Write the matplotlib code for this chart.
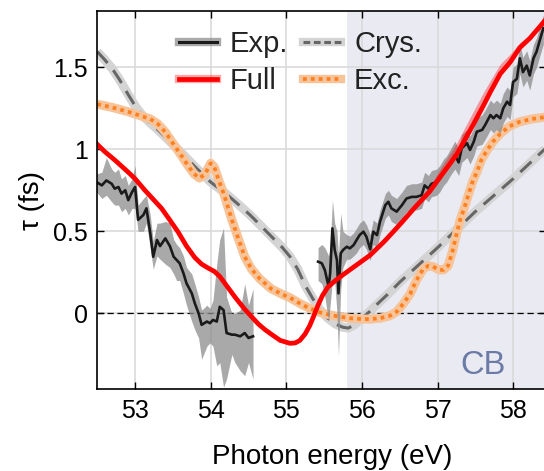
import numpy as np
import matplotlib
matplotlib.use("Agg")
import matplotlib.pyplot as plt
from matplotlib.lines import Line2D
from matplotlib.ticker import FuncFormatter

plt.rcParams['font.family'] = ['Liberation Sans', 'DejaVu Sans']

# ---------------- data ----------------
crys_x = [52.50, 52.60, 52.70, 52.80, 52.90, 53.00, 53.10, 53.20, 53.30, 53.40, 53.50, 53.60,
          53.80, 54.00, 54.20, 54.40, 54.52, 54.65, 54.80, 54.95, 55.05, 55.15, 55.25, 55.35,
          55.45, 55.55, 55.65, 55.75, 55.82, 55.90, 56.00, 56.10, 56.20, 56.35, 56.50, 57.00,
          57.50, 58.00, 58.44]
crys_y = [1.595, 1.545, 1.49, 1.42, 1.34, 1.265, 1.205, 1.16, 1.12, 1.075, 1.03, 0.985,
          0.89, 0.80, 0.73, 0.65, 0.60, 0.54, 0.47, 0.40, 0.345, 0.27, 0.17, 0.09,
          0.02, -0.03, -0.065, -0.085, -0.09, -0.07, -0.03, 0.01, 0.055, 0.12, 0.19, 0.40,
          0.62, 0.82, 1.01]

exc_x = [52.50, 52.70, 52.90, 53.00, 53.10, 53.20, 53.30, 53.40, 53.50, 53.60, 53.70, 53.78,
         53.85, 53.92, 54.00, 54.05, 54.10, 54.18, 54.28, 54.37, 54.45, 54.54, 54.65, 54.80,
         54.95, 55.05, 55.20, 55.31, 55.45, 55.58, 55.70, 55.84, 56.00, 56.11, 56.24, 56.37,
         56.46, 56.55, 56.64, 56.72, 56.81, 56.88, 56.94, 57.02, 57.08, 57.14, 57.20, 57.25,
         57.30, 57.36, 57.42, 57.47, 57.52, 57.58, 57.65, 57.74, 57.83, 57.95, 58.09, 58.25,
         58.44]
exc_y = [1.275, 1.255, 1.23, 1.215, 1.20, 1.185, 1.155, 1.105, 1.037, 0.97, 0.90, 0.85,
         0.825, 0.845, 0.915, 0.89, 0.82, 0.72, 0.57, 0.45, 0.345, 0.27, 0.21, 0.15,
         0.115, 0.095, 0.055, 0.03, 0.005, -0.01, -0.02, -0.03, -0.035, -0.035, -0.03, -0.015,
         0.01, 0.06, 0.12, 0.20, 0.27, 0.29, 0.285, 0.265, 0.265, 0.29, 0.38, 0.48,
         0.57, 0.65, 0.74, 0.81, 0.86, 0.935, 0.99, 1.05, 1.095, 1.14, 1.168, 1.185,
         1.197]

full_x = [52.50, 52.60, 52.73, 52.91, 53.00, 53.13, 53.25, 53.35, 53.45, 53.57, 53.68, 53.79,
          53.88, 53.97, 54.05, 54.12, 54.20, 54.32, 54.45, 54.55, 54.63, 54.72, 54.81, 54.92,
          55.05, 55.12, 55.18, 55.25, 55.31, 55.36, 55.42, 55.48, 55.55, 55.65, 55.75, 55.90,
          56.11, 56.30, 56.50, 56.70, 56.90, 57.05, 57.25, 57.47, 57.60, 57.70, 57.83, 57.96,
          58.09, 58.22, 58.32, 58.44]
full_y = [1.03, 0.985, 0.935, 0.86, 0.82, 0.75, 0.69, 0.64, 0.575, 0.495, 0.41, 0.34,
          0.30, 0.275, 0.255, 0.225, 0.175, 0.10, 0.025, -0.025, -0.065, -0.10, -0.13, -0.165,
          -0.183, -0.18, -0.165, -0.125, -0.075, -0.02, 0.05, 0.11, 0.16, 0.20, 0.235, 0.285,
          0.355, 0.44, 0.54, 0.645, 0.745, 0.84, 0.965, 1.148, 1.26, 1.35, 1.46, 1.53,
          1.62, 1.676, 1.73, 1.795]
full_up = [0.0, 0.0, 0.0, 0.0, 0.0, 0.0, 0.0, 0.0, 0.0, 0.0, 0.0, 0.0,
           0.0, 0.0, 0.0, 0.0, 0.0, 0.0, 0.0, 0.0, 0.0, 0.0, 0.0, 0.0,
           0.0, 0.0, 0.0, 0.0, 0.0, 0.0, 0.0, 0.0, 0.0, 0.0, 0.0, 0.0,
           0.0, 0.0, 0.0, 0.01, 0.03, 0.05, 0.07, 0.08, 0.08, 0.07, 0.06, 0.05,
           0.03, 0.02, 0.01, 0.0]

exp1_x = [52.49, 52.56, 52.62, 52.69, 52.73, 52.78, 52.82, 52.87, 52.91, 52.96, 53.00, 53.04,
          53.11, 53.15, 53.20, 53.24, 53.29, 53.33, 53.40, 53.46, 53.51, 53.55, 53.59, 53.64,
          53.68, 53.75, 53.79, 53.84, 53.88, 53.95, 53.99, 54.03, 54.08, 54.12, 54.17, 54.21,
          54.28, 54.32, 54.39, 54.45, 54.50, 54.56]
exp1_y = [0.80, 0.78, 0.81, 0.79, 0.76, 0.77, 0.73, 0.75, 0.69, 0.74, 0.77, 0.57,
          0.60, 0.64, 0.49, 0.345, 0.447, 0.41, 0.457, 0.41, 0.345, 0.325, 0.305, 0.244,
          0.183, 0.122, 0.061, 0.0, -0.07, -0.05, -0.06, -0.04, -0.05, 0.04, 0.02, -0.12,
          -0.13, -0.13, -0.14, -0.12, -0.15, -0.14]
exp1_lo = [0.74, 0.70, 0.72, 0.68, 0.66, 0.66, 0.62, 0.64, 0.60, 0.64, 0.64, 0.50,
           0.50, 0.55, 0.40, 0.27, 0.35, 0.33, 0.30, 0.28, 0.24, 0.20, 0.20, 0.12,
           0.05, -0.05, -0.10, -0.15, -0.28, -0.20, -0.18, -0.20, -0.32, -0.30, -0.45, -0.40,
           -0.25, -0.30, -0.35, -0.38, -0.30, -0.40]
exp1_hi = [0.85, 0.86, 0.95, 0.88, 0.86, 0.88, 0.82, 0.84, 0.78, 0.82, 0.90, 0.66,
           0.70, 0.72, 0.60, 0.44, 0.55, 0.55, 0.56, 0.55, 0.45, 0.42, 0.40, 0.35,
           0.28, 0.24, 0.18, 0.10, 0.02, 0.05, 0.03, 0.08, 0.30, 0.45, 0.52, 0.10,
           0.00, 0.00, 0.02, 0.18, 0.05, 0.15]

exp2_x = [55.42, 55.47, 55.51, 55.56, 55.58, 55.61, 55.64, 55.67, 55.69, 55.72, 55.75, 55.80,
          55.84, 55.89, 55.93, 55.97, 56.02, 56.06, 56.11, 56.15, 56.20, 56.24, 56.31, 56.35,
          56.39, 56.46, 56.53, 56.59, 56.66, 56.72, 56.79, 56.83, 56.88, 56.92, 56.99, 57.03,
          57.08, 57.12, 57.17, 57.23, 57.28, 57.32, 57.39, 57.43, 57.48, 57.52, 57.59, 57.63,
          57.70, 57.74, 57.78, 57.83, 57.87, 57.92, 57.96, 58.00, 58.05, 58.09, 58.13, 58.18,
          58.22, 58.27, 58.31, 58.36, 58.40]
exp2_y = [0.315, 0.305, 0.264, 0.162, 0.244, 0.518, 0.386, 0.325, 0.122, 0.366, 0.386, 0.406,
          0.396, 0.416, 0.447, 0.477, 0.498, 0.467, 0.39, 0.498, 0.477, 0.559, 0.66, 0.68,
          0.64, 0.62, 0.66, 0.70, 0.71, 0.71, 0.72, 0.78, 0.76, 0.79, 0.80, 0.82,
          0.86, 0.88, 0.92, 0.965, 0.92, 1.006, 1.037, 0.996, 1.047, 1.107, 1.118, 1.148,
          1.209, 1.189, 1.209, 1.189, 1.25, 1.29, 1.27, 1.41, 1.43, 1.555, 1.47, 1.51,
          1.45, 1.555, 1.595, 1.676, 1.738]
exp2_lo = [0.20, 0.18, 0.10, -0.05, 0.05, 0.20, 0.20, 0.00, -0.26, 0.15, 0.28, 0.33,
           0.33, 0.35, 0.37, 0.40, 0.42, 0.39, 0.32, 0.42, 0.40, 0.48, 0.58, 0.60,
           0.56, 0.54, 0.58, 0.62, 0.63, 0.63, 0.64, 0.70, 0.68, 0.71, 0.72, 0.74,
           0.78, 0.80, 0.84, 0.88, 0.84, 0.92, 0.95, 0.91, 0.96, 1.02, 1.03, 1.06,
           1.12, 1.10, 1.12, 1.10, 1.16, 1.20, 1.18, 1.32, 1.34, 1.46, 1.38, 1.42,
           1.36, 1.46, 1.50, 1.58, 1.64]
exp2_hi = [0.40, 0.42, 0.40, 0.35, 0.40, 0.69, 0.55, 0.50, 0.35, 0.61, 0.50, 0.48,
           0.47, 0.49, 0.52, 0.55, 0.57, 0.54, 0.48, 0.57, 0.55, 0.63, 0.73, 0.75,
           0.72, 0.70, 0.74, 0.78, 0.79, 0.79, 0.80, 0.86, 0.84, 0.87, 0.88, 0.90,
           0.94, 0.96, 1.00, 1.05, 1.00, 1.09, 1.12, 1.08, 1.13, 1.19, 1.21, 1.24,
           1.30, 1.28, 1.30, 1.28, 1.34, 1.38, 1.36, 1.50, 1.52, 1.64, 1.56, 1.60,
           1.54, 1.64, 1.68, 1.76, 1.82]

cb_start = 55.8
x_ticks = [53, 54, 55, 56, 57, 58]
y_ticks = [0, 0.5, 1, 1.5]
labels = ["Exp.", "Full", "Crys.", "Exc."]

# ---------------- styles ----------------
C_EXP = '#1a1a1a'
C_EXP_BAND = '#8c8c8c'
C_FULL = '#ff0000'
C_CRYS = '#666666'
C_CRYS_BAND = '#d4d4d4'
C_EXC = '#ff8020'
C_EXC_BAND = '#f7c49a'
C_CB = '#eaeaf3'
C_CBTXT = '#6b7ba6'

W, H = 544, 471
fig = plt.figure(figsize=(W / 100, H / 100), dpi=100)
ax_l, ax_r, ax_t, ax_b = 97.3, 546.0, 11.0, 389.3
ax = fig.add_axes([ax_l / W, 1 - ax_b / H, (ax_r - ax_l) / W, (ax_b - ax_t) / H])

ax.set_xlim(52.5, 52.5 + (ax_r - ax_l) / 75.6)
ax.set_ylim(-0.463, 1.843)

ax.axvspan(cb_start, 60, color=C_CB, zorder=0.2, lw=0)
ax.set_xticks(x_ticks)
ax.set_yticks(y_ticks)
ax.grid(True, color='#dadada', lw=1.2, zorder=0.5)
ax.set_axisbelow(True)
ax.axhline(0, color='black', lw=0.9, ls=(0, (5, 3)), zorder=1.5)

# Crys
ax.plot(crys_x, crys_y, color=C_CRYS_BAND, lw=6.5, solid_capstyle='butt', zorder=2)
ax.plot(crys_x, crys_y, color=C_CRYS, lw=2.2, dashes=(5, 3), zorder=2.1)
# Exc
ax.plot(exc_x, exc_y, color=C_EXC_BAND, lw=6.5, solid_capstyle='butt', zorder=2.2)
ax.plot(exc_x, exc_y, color=C_EXC, lw=2.7, dashes=(1, 1.1), zorder=2.3)
# Exp
ax.fill_between(exp1_x, exp1_lo, exp1_hi, color=C_EXP_BAND, alpha=0.75, lw=0, zorder=2.4)
ax.fill_between(exp2_x, exp2_lo, exp2_hi, color=C_EXP_BAND, alpha=0.75, lw=0, zorder=2.4)
ax.plot(exp1_x, exp1_y, color=C_EXP, lw=1.9, zorder=2.5)
ax.plot(exp2_x, exp2_y, color=C_EXP, lw=1.9, zorder=2.5)
# Full
full_hi = [a + b for a, b in zip(full_y, full_up)]
ax.fill_between(full_x, full_y, full_hi, color=C_FULL, alpha=0.35, lw=0, zorder=2.6)
ax.plot(full_x, full_y, color=C_FULL, lw=3.4, zorder=2.7)

ax.text(57.6, -0.32, "CB", color=C_CBTXT, fontsize=23.5, ha='center', va='center', zorder=3)

# ticks / spines
ax.tick_params(direction='in', top=True, right=True, length=5, width=1.0,
               labelsize=18, pad=7, colors='black')
ax.yaxis.set_major_formatter(FuncFormatter(lambda v, p: f"{v:g}"))
for s in ax.spines.values():
    s.set_linewidth(1.2)
    s.set_zorder(4)

ax.set_xlabel("Photon energy (eV)", fontsize=20)
ax.set_ylabel("τ (fs)", fontsize=20)
ax.xaxis.set_label_coords((332 - ax_l) / (ax_r - ax_l), -(444 - ax_b) / (ax_b - ax_t))
ax.yaxis.set_label_coords((45 - ax_l) / (ax_r - ax_l), 0.5)

# legend
h_exp = (Line2D([], [], color=C_EXP_BAND, alpha=0.75, lw=6), Line2D([], [], color=C_EXP, lw=2.2))
h_full = (Line2D([], [], color=C_FULL, alpha=0.35, lw=6), Line2D([], [], color=C_FULL, lw=3.4))
h_crys = (Line2D([], [], color=C_CRYS_BAND, lw=6), Line2D([], [], color=C_CRYS, lw=2.2, dashes=(2.2, 1.2)))
h_exc = (Line2D([], [], color=C_EXC_BAND, lw=6), Line2D([], [], color=C_EXC, lw=2.7, dashes=(1, 1.1)))
leg = ax.legend([h_exp, h_full, h_crys, h_exc], labels, ncol=2, frameon=False,
                fontsize=21, loc='upper left',
                bbox_to_anchor=((179 - ax_l) / (ax_r - ax_l), (ax_b - 30) / (ax_b - ax_t)),
                borderpad=0, borderaxespad=0, handlelength=1.3, handletextpad=0.45,
                columnspacing=0.5, labelspacing=0.3)
for t in leg.get_texts():
    t.set_color('#222222')

fig.savefig("out.png", dpi=100)
